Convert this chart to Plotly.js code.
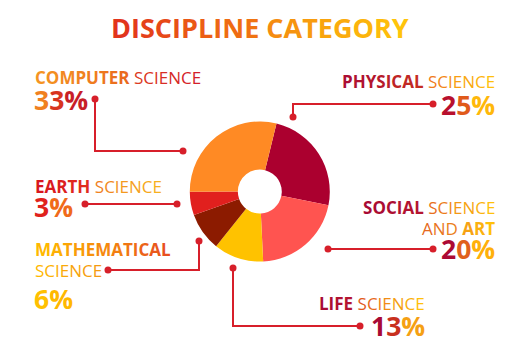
<!DOCTYPE html>
<html>
<head>
<meta charset="utf-8">
<script src="https://cdn.plot.ly/plotly-3.0.1.min.js"></script>
<style>html,body{margin:0;padding:0;background:#fff;}#chart{width:523px;height:357px;}</style>
</head>
<body>
<div id="chart"></div>
<script>
// ---- data ----
const categories = ['Physical Science', 'Social Science and Art', 'Life Science', 'Mathematical Science', 'Earth Science', 'Computer Science'];
// percentages printed in the labels
const shares = [25, 20, 13, 6, 3, 33];
// slice sizes as drawn in the picture (measured angles, % of circle)
const sliceSizes = [24.3, 21.1, 11.5, 8.8, 5.4, 28.9];
const sliceColors = ['#AB002F', '#FF5450', '#FFC200', '#8C1B00', '#E1201E', '#FF8A24'];
const chartTitle = 'DISCIPLINE CATEGORY';

// ---- helpers ----
function hex2rgb(h){h=h.replace('#','');return [0,2,4].map(i=>parseInt(h.substr(i,2),16));}
function mix(a,b,t){const A=hex2rgb(a),B=hex2rgb(b);return 'rgb('+A.map((v,i)=>Math.round(v+(B[i]-v)*t)).join(',')+')';}
function grad(str,c1,c2,bold){
  const n=str.length;let out='';
  for(let i=0;i<n;i++){
    const ch=str[i];
    const t=n>1?i/(n-1):0;
    out+='<span style="color:'+mix(c1,c2,t)+'">'+ch+'</span>';
  }
  return bold?'<b>'+out+'</b>':out;
}

const LINE = '#D71F2A';
const LBL = 17, PCT = 26.5;
const annotations = [];
function ann(x,y,text,size,anchor){
  annotations.push({x:x,y:y,xref:'x',yref:'y',text:text,showarrow:false,xanchor:anchor,yanchor:'middle',
    font:{family:'Open Sans, sans-serif',size:size},borderpad:0});
}

// title
ann(260,27,grad('DISCIPLINE ','#E2341C','#F27A10',true)+grad('CATEGORY','#F58C10','#FFC40A',true),27,'center');

// Computer science (left top)
ann(34,77,grad('COMPUTER ','#F59422','#E8641C',true)+grad('SCIENCE','#DC3A22','#D3202A',false),LBL,'left');
ann(33,100,grad(String(shares[5]),'#F08020','#D8341E',true)+grad('%','#C81E28','#B81830',true),PCT,'left');
// Earth
ann(34,186,grad('EARTH ','#D8161E','#E3301E',true)+grad('SCIENCE','#F0821E','#F7B020',false),LBL,'left');
ann(33,207,grad(String(shares[4]),'#E0221C','#E0221C',true)+grad('%','#F06A1A','#F8B018',true),PCT,'left');
// Mathematical
ann(34,249,grad('MATHEMATICAL','#FFB800','#E8501E',true),LBL,'left');
ann(34,270,grad('SCIENCE','#FFB800','#F59A10',false),LBL,'left');
ann(33,299,grad(String(shares[3]),'#FFC000','#FFC000',true)+grad('%','#FFB800','#F8A010',true),PCT,'left');
// Physical
ann(496,81,grad('PHYSICAL ','#AC0D34','#C8321E',true)+grad('SCIENCE','#F07C1A','#FFC00A',false),LBL,'right');
ann(496,105,grad(String(shares[0]),'#B8102E','#E05A1A',true)+grad('%','#FFB80A','#FFC60A',true),PCT,'right');
// Social
ann(496,207,grad('SOCIAL ','#A80A34','#B81830',true)+grad('SCIENCE','#E87020','#FFC00A',false),LBL,'right');
ann(496,228,grad('AND ','#E66A20','#EE8A1A',false)+grad('ART','#F6A214','#FFC00A',true),LBL,'right');
ann(496,249,grad(String(shares[1]),'#AC0A34','#E0601C',true)+grad('%','#FFB00A','#FFC40A',true),PCT,'right');
// Life
ann(426,303,grad('LIFE ','#A80A34','#B81830',true)+grad('SCIENCE','#E25A20','#FFC00A',false),LBL,'right');
ann(426,326,grad('1','#A80A34','#B81830',true)+grad('3','#C8301E','#D84A1C',true)+grad('%','#F5A014','#FFC00A',true),PCT,'right');

// ---- connectors (annotation leaders) ----
const connectors = [
  {x:[95,95,183], y:[99,151,151]},      // computer
  {x:[85,177], y:[204,204]},            // earth
  {x:[108,199,199], y:[270,270,241]},   // mathematical
  {x:[433,293,293], y:[104,104,117]},   // physical
  {x:[328,433], y:[249,249]},           // social
  {x:[233,233,360], y:[268,326,326]}    // life
];
const traces = [];
traces.push({type:'pie', labels:categories, values:sliceSizes, sort:false, direction:'clockwise', rotation:13.8,
  hole:0.314, marker:{colors:sliceColors, line:{width:0}}, textinfo:'none', hoverinfo:'label',
  domain:{x:[189.8/523,329.8/523], y:[1-261.5/357,1-121.5/357]}, showlegend:false});
connectors.forEach(c=>{
  traces.push({type:'scatter',mode:'lines',x:c.x,y:c.y,xaxis:'x',yaxis:'y',
    line:{color:LINE,width:2},hoverinfo:'skip',showlegend:false,cliponaxis:false});
  const n=c.x.length;
  traces.push({type:'scatter',mode:'markers',x:[c.x[0],c.x[n-1]],y:[c.y[0],c.y[n-1]],xaxis:'x',yaxis:'y',
    marker:{color:LINE,size:7,line:{width:0}},hoverinfo:'skip',showlegend:false,cliponaxis:false});
});

const layout = {
  width:523,height:357,margin:{l:0,r:0,t:0,b:0},
  paper_bgcolor:'#ffffff',plot_bgcolor:'rgba(0,0,0,0)',
  xaxis:{range:[0,523],visible:false,fixedrange:true},
  yaxis:{range:[357,0],visible:false,fixedrange:true},
  annotations:annotations,showlegend:false
};
Plotly.newPlot('chart',traces,layout,{displayModeBar:false,staticPlot:true});
</script>
</body>
</html>
